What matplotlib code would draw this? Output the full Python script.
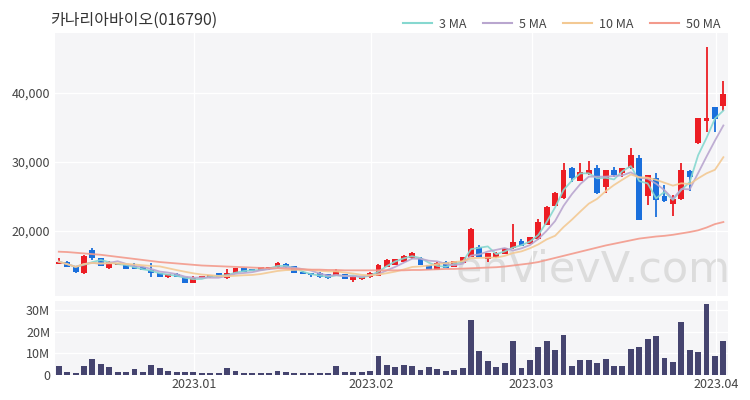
import matplotlib
matplotlib.use("Agg")
import matplotlib.pyplot as plt
from matplotlib.lines import Line2D
import numpy as np
import pandas as pd

plt.rcParams['font.family'] = ['Noto Sans CJK KR', 'DejaVu Sans']

title = "카나리아바이오(016790)"

opens = [15200, 15550, 14830, 13870, 17250, 16040, 14600, 15050, 15070, 14950,
         14830, 14350, 13870, 13300, 13800, 13380, 12510, 13200, 13300, 13870,
         13160, 13870, 14600, 14450, 14350, 14450, 14740, 15220, 14930, 14110,
         13870, 13970, 13720, 13530, 13720, 12890, 12990, 13290, 13480, 14830,
         15070, 15550, 16040, 16130, 15070, 14350, 15550, 14830, 15320, 16280,
         17730, 15900, 16190, 16670, 17490, 18590, 18120, 18800, 20870, 23620,
         24730, 29080, 27250, 28260, 29080, 26420, 28840, 28450, 29080, 30530,
         25070, 27640, 25070, 23910, 24590, 28690, 32710, 36000, 37900, 38110]
highs = [16040, 15600, 14900, 16500, 17600, 16100, 15700, 15350, 15100, 15350,
         14850, 15320, 13900, 13800, 13850, 13400, 13450, 13550, 13650, 13900,
         14450, 14650, 14650, 14500, 14800, 14800, 15470, 15420, 14950, 14150,
         13970, 14000, 13750, 14450, 13750, 13480, 13400, 14010, 15150, 16000,
         16000, 16450, 17010, 16200, 15100, 15450, 15600, 15700, 16250, 20390,
         17950, 16850, 16900, 17550, 20970, 18900, 19150, 21700, 23600, 25700,
         29810, 29320, 29810, 30190, 29560, 28900, 29320, 29170, 31980, 31010,
         28150, 28360, 26670, 25220, 29900, 28840, 36400, 46710, 38000, 41780]
lows = [15150, 14800, 13950, 13800, 15800, 14900, 14550, 15000, 14450, 14450,
        14300, 13380, 13350, 13250, 13350, 12450, 12480, 13150, 13250, 13350,
        13100, 13850, 14050, 14150, 14300, 14400, 14700, 14700, 13850, 13700,
        13380, 13250, 13100, 13500, 13000, 12650, 12950, 13250, 13450, 14800,
        15050, 15500, 16000, 15050, 14300, 14300, 14650, 14800, 15300, 16250,
        16200, 15550, 16150, 16650, 17450, 17850, 18100, 18750, 20850, 23600,
        24700, 27140, 27200, 28110, 25400, 25550, 27780, 27870, 29000, 21550,
        23770, 22070, 24250, 22170, 24550, 25800, 32650, 34390, 34390, 37390]
closes = [15550, 14850, 14020, 16420, 16040, 14930, 15460, 15250, 14500, 14500,
          14350, 13870, 13380, 13750, 13400, 12510, 13150, 13500, 13600, 13380,
          13870, 14600, 14110, 14200, 14740, 14740, 15320, 14740, 13870, 13720,
          13630, 13290, 13160, 14260, 13040, 13380, 13380, 13870, 15070, 15800,
          15900, 16380, 16770, 15070, 14350, 15410, 14680, 15650, 16190, 20250,
          16280, 16770, 16860, 17490, 18450, 17870, 19090, 21300, 23520, 25460,
          28840, 27630, 28600, 28840, 25460, 28840, 28110, 29080, 31010, 21590,
          28110, 24490, 24390, 24640, 28840, 27780, 36330, 36350, 36200, 39800]
volumes_m = [4.3, 1.3, 1.1, 4.3, 7.4, 5.1, 3.5, 1.5, 1.5, 2.8,
             1.5, 4.6, 3.1, 2.0, 1.5, 1.5, 1.5, 1.1, 0.8, 0.8,
             3.1, 2.0, 1.1, 0.8, 0.8, 0.8, 2.0, 1.5, 1.1, 0.8,
             0.8, 0.8, 0.8, 4.1, 1.5, 1.5, 1.5, 2.0, 8.9, 4.6,
             3.8, 4.6, 4.1, 2.3, 3.8, 2.8, 1.8, 2.1, 3.1, 25.3,
             11.1, 6.6, 3.5, 5.5, 15.8, 3.2, 6.9, 13.1, 15.7, 11.5,
             18.4, 4.1, 6.8, 6.9, 5.4, 7.4, 4.3, 4.3, 12.0, 13.1,
             16.6, 18.0, 8.0, 6.0, 24.6, 11.5, 10.8, 33.0, 8.9, 15.7]
ma50 = [17000, 16950, 16850, 16750, 16650, 16550, 16400, 16250, 16100, 15950,
        15800, 15650, 15500, 15400, 15300, 15200, 15100, 15000, 14950, 14900,
        14850, 14800, 14750, 14700, 14650, 14600, 14600, 14550, 14500, 14450,
        14400, 14400, 14350, 14350, 14300, 14300, 14300, 14300, 14300, 14300,
        14300, 14300, 14350, 14350, 14400, 14450, 14500, 14500, 14550, 14600,
        14650, 14700, 14750, 14850, 15000, 15150, 15300, 15500, 15800, 16100,
        16400, 16700, 17000, 17300, 17600, 17900, 18150, 18400, 18650, 18900,
        19050, 19200, 19300, 19450, 19650, 19850, 20100, 20500, 21000, 21300]
tick_pos = [16.1, 37.1, 56.2, 78.1]
tick_labels = ["2023.01", "2023.02", "2023.03", "2023.04"]
ma_labels = ["3 MA", "5 MA", "10 MA", "50 MA"]
ma_colors = ["#86d8d0", "#b9a6cf", "#f3c993", "#f39a8c"]

UP = "#ec1d24"
DOWN = "#1a6fdc"
VOLC = "#45446f"
BG = "#f5f5f7"

x = np.arange(len(closes))
cl = pd.Series(closes, dtype=float)
ma3 = cl.rolling(3, min_periods=1).mean()
ma5 = cl.rolling(5, min_periods=1).mean()
ma10 = cl.rolling(10, min_periods=1).mean()

fig = plt.figure(figsize=(7.5, 4.0), dpi=100)
ax = fig.add_axes([55/750, 1-296/400, (728-55)/750, (296-33)/400])
axv = fig.add_axes([55/750, 1-375/400, (728-55)/750, (375-301)/400])

for a in (ax, axv):
    a.set_facecolor(BG)
    for s in a.spines.values():
        s.set_visible(False)
    a.tick_params(length=0, colors="#444444", labelsize=9)
    a.set_xlim(-0.45, 79.55)
    a.set_xticks(tick_pos)
    a.grid(True, color="white", linewidth=1.0)
    a.set_axisbelow(True)

ax.text(0.8, 0.1, "enVievV.com", transform=ax.transAxes, fontsize=31,
        color="#dcdcdc", ha="center", va="center", family="DejaVu Sans", zorder=0.5)

w = 0.7
for i in x:
    o, h, l, c = opens[i], highs[i], lows[i], closes[i]
    col = UP if c >= o else DOWN
    ax.vlines(i, l, h, color=col, linewidth=1.3, zorder=2)
    ax.bar(i, abs(c - o) if abs(c - o) > 60 else 60, bottom=min(o, c), width=w,
           color=col, zorder=2, linewidth=0)

for series, col in zip([ma3, ma5, ma10, ma50], ma_colors):
    ax.plot(x, series, color=col, linewidth=1.3, alpha=0.9, zorder=3)

ax.set_ylim(10580, 48690)
ax.set_yticks([20000, 30000, 40000])
ax.set_yticklabels(["20,000", "30,000", "40,000"])
ax.set_xticklabels([])

axv.bar(x, volumes_m, width=w, color=VOLC, zorder=2, linewidth=0)
axv.set_ylim(0, 34.2)
axv.set_yticks([0, 10, 20, 30])
axv.set_yticklabels(["0", "10M", "20M", "30M"])
axv.set_xticklabels(tick_labels)
axv.tick_params(axis="x", pad=2)

fig.text(50/750, 1-20/400, title, fontsize=11.5, color="#333333", va="center", ha="left")

handles = [Line2D([0], [0], color=c, linewidth=1.5) for c in ma_colors]
fig.legend(handles, ma_labels, ncol=4, loc="center right",
           bbox_to_anchor=(732/750, 1-24/400), frameon=False, fontsize=9,
           handlelength=2.3, columnspacing=1.3, handletextpad=0.6,
           labelcolor="#444444")

fig.savefig("out.png", dpi=100, facecolor="white")
